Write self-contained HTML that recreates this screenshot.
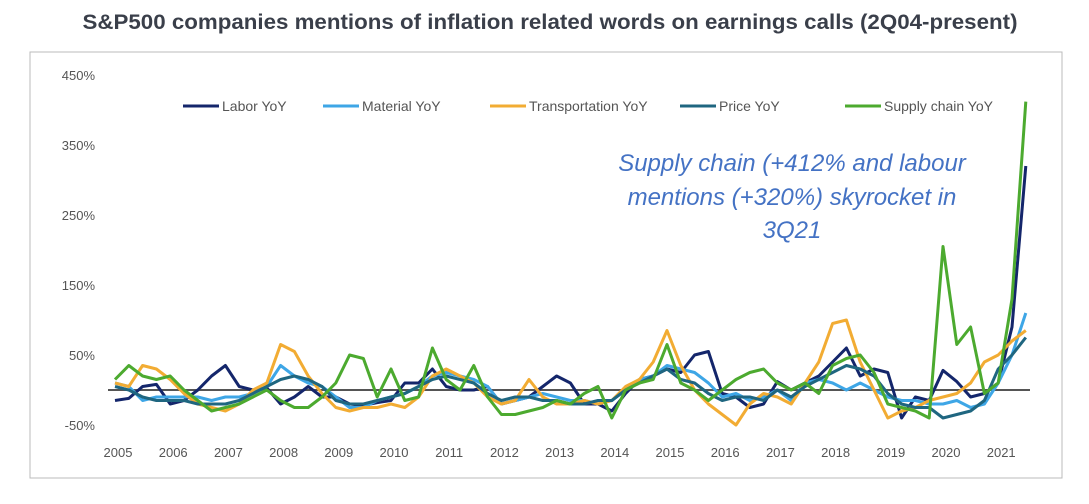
<!DOCTYPE html>
<html><head><meta charset="utf-8"><style>
body{margin:0;background:#fff;width:1089px;height:499px;overflow:hidden;font-family:"Liberation Sans",sans-serif}
</style></head><body>
<svg width="1089" height="499">
<text x="550" y="29" text-anchor="middle" font-size="21" font-weight="bold" fill="#3a3f4a" textLength="935" lengthAdjust="spacingAndGlyphs">S&amp;P500 companies mentions of inflation related words on earnings calls (2Q04-present)</text>
<rect x="30" y="52" width="1032" height="426" fill="none" stroke="#bbb" stroke-width="1"/>
<g id="yax"></g>
<g id="xax"></g>
<line x1="108" x2="1030" y1="390" y2="390" stroke="#555" stroke-width="2"/>
<g id="lines"></g>
<g id="legend"></g>
<g font-size="24" font-style="italic" fill="#4472c4" text-anchor="middle">
<text x="792" y="171">Supply chain (+412% and labour</text>
<text x="792" y="205">mentions (+320%) skyrocket in</text>
<text x="792" y="238">3Q21</text>
</g>
</svg>
<script>
const yTicks=[450,350,250,150,50,-50];
const yearLabels=[2005,2006,2007,2008,2009,2010,2011,2012,2013,2014,2015,2016,2017,2018,2019,2020,2021];
const seriesNames=["Labor YoY","Material YoY","Transportation YoY","Price YoY","Supply chain YoY"];
const labor=[-15,-12,5,8,-20,-15,0,20,35,5,0,3,-20,-10,5,-10,-10,-20,-22,-18,-15,10,10,30,5,0,0,5,-20,-15,-10,5,20,10,-20,-20,-30,-5,15,20,30,25,50,55,-5,-10,-25,-20,12,0,10,20,40,60,20,30,25,-40,-10,-15,28,12,-10,-5,10,90,320];
const material=[10,5,-15,-10,-10,-10,-10,-15,-10,-10,-5,5,35,20,10,5,-10,-25,-25,-15,-10,-5,5,20,25,20,15,5,-20,-15,-10,-5,-10,-15,-15,-20,-15,0,15,20,35,30,25,10,-10,-5,-15,-10,0,-15,10,15,10,0,10,0,-10,-15,-15,-20,-20,-15,-25,-20,10,50,110];
const transport=[10,5,35,30,15,-5,-20,-25,-30,-20,0,10,65,55,20,-5,-25,-30,-25,-25,-20,-25,-10,20,30,20,10,-10,-20,-15,15,-10,-20,-20,-15,-20,-15,5,15,40,85,35,0,-20,-35,-50,-20,-5,-10,-20,10,40,95,100,40,0,-40,-30,-25,-15,-10,-5,10,40,50,70,85];
const price=[5,0,-10,-15,-15,-15,-20,-20,-20,-15,-5,5,15,20,15,5,-15,-20,-20,-15,-10,-5,5,15,20,15,10,-5,-15,-10,-10,-15,-15,-20,-20,-15,-15,0,10,20,30,15,10,-5,-15,-10,-10,-15,0,-10,5,15,25,35,30,20,-5,-20,-25,-25,-40,-35,-30,-15,30,50,75];
const supply=[15,35,20,15,20,0,-15,-30,-25,-20,-10,0,-15,-25,-25,-10,10,50,45,-10,30,-15,-10,60,15,0,35,-10,-35,-35,-30,-25,-15,-20,-5,5,-40,0,10,15,65,10,0,-15,0,15,25,30,10,0,10,-5,35,45,50,25,-20,-25,-30,-40,205,65,90,-5,10,130,412];
const colors=["#14266b","#3ea6e6","#f2ac33","#1f6680","#4caa2f"];
const NS="http://www.w3.org/2000/svg";
const x=i=>115+i*13.8;
const y=v=>390-v*0.7;
function mk(t,a,p){const e=document.createElementNS(NS,t);for(const k in a)e.setAttribute(k,a[k]);p.appendChild(e);return e;}
const yax=document.getElementById('yax');
yTicks.forEach(t=>{const e=mk('text',{x:95,y:y(t)+5,'text-anchor':'end','font-size':13,fill:'#555'},yax);


e.textContent=t+'%';});
const xax=document.getElementById('xax');
yearLabels.forEach((yr,k)=>{const e=mk('text',{x:x(k*4)+3,y:457,'text-anchor':'middle','font-size':13,fill:'#555'},xax);


e.textContent=yr;});
const all=[labor,material,transport,price,supply];
const lg=document.getElementById('lines');
all.forEach((s,si)=>{const p=mk('polyline',{points:s.map((v,i)=>x(i)+','+y(v)).join(' '),fill:'none',stroke:colors[si],'stroke-width':3,'stroke-linejoin':'round'},lg);

});
const leg=document.getElementById('legend');
const lx=[183,323,490,680,845];
seriesNames.forEach((n,i)=>{const g=mk('g',{},leg);


mk('line',{x1:lx[i],x2:lx[i]+36,y1:106,y2:106,stroke:colors[i],'stroke-width':3},g);
const t=mk('text',{x:lx[i]+39,y:111,'font-size':14,fill:'#555'},g);t.textContent=n;});
</script>
</body></html>
